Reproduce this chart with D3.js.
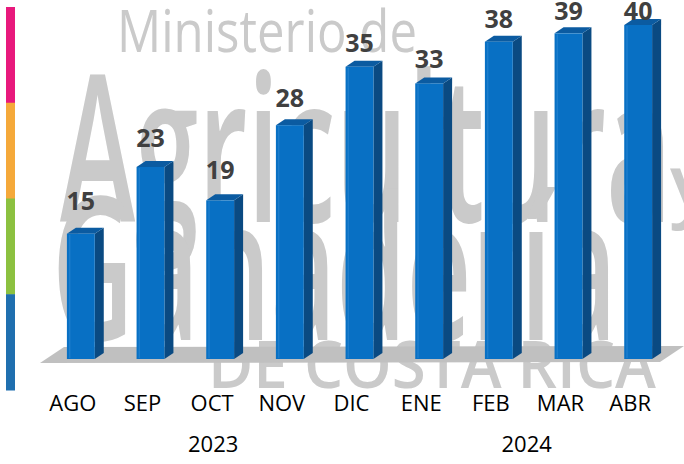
<!DOCTYPE html>
<html>
<head>
<meta charset="utf-8">
<script src="https://cdn.jsdelivr.net/npm/d3@7"></script>
<style>
  html, body { margin: 0; padding: 0; background: #fff; }
  svg { display: block; }
</style>
</head>
<body>
<svg id="chart" width="684" height="464"></svg>
<script>
// ---- data ----
const months = ["AGO", "SEP", "OCT", "NOV", "DIC", "ENE", "FEB", "MAR", "ABR"];
const values = [15, 23, 19, 28, 35, 33, 38, 39, 40];
const years = ["2023", "2024"];
const yearMonths = [["AGO", "DIC"], ["ENE", "ABR"]]; // months spanned by each year label
const stripColors = ["#e8197c", "#f5a93a", "#8cc140", "#1f6faf"];

// ---- layout ----
const svg = d3.select("#chart");

const x = d3.scaleBand().domain(months).range([46, 673]).paddingInner(0.6).paddingOuter(0.3);
const y = d3.scaleLinear().domain([0, 40]).range([359, 25]);

const dx = 9, dy = 6;
const labelFont = "'Open Sans', 'Liberation Sans', sans-serif";

// ---- watermark ----
const wm = svg.append("g").attr("fill", "#cacaca").attr("font-family", labelFont);
wm.append("text").attr("x", 117).attr("y", 52).attr("font-size", 58)
  .attr("textLength", 300).attr("lengthAdjust", "spacingAndGlyphs").text("Ministerio de");
wm.append("text").attr("x", 60).attr("y", 222).attr("font-size", 205).attr("font-weight", 600)
  .attr("textLength", 612).attr("lengthAdjust", "spacingAndGlyphs").text("Agricultura");
wm.append("text").attr("x", 670).attr("y", 212).attr("font-size", 80).attr("font-weight", 600).text("y");
wm.append("text").attr("x", 52).attr("y", 340).attr("font-size", 200).attr("font-weight", 600)
  .attr("textLength", 565).attr("lengthAdjust", "spacingAndGlyphs").text("Ganadería");
wm.append("text").attr("x", 208).attr("y", 388).attr("font-size", 66).attr("font-weight", 600)
  .attr("textLength", 448).attr("lengthAdjust", "spacingAndGlyphs").text("DE COSTA RICA");

// ---- floor ----
const y0 = y(0);
const floorLeft = 40, floorRight = 660, floorDx = 24;
svg.append("polygon")
  .attr("points", [
    [floorLeft, y0 + 4], [floorRight, y0 + 3],
    [floorRight + floorDx, y0 - 13], [floorLeft + floorDx, y0 - 12]
  ].map(p => p.join(",")).join(" "))
  .attr("fill", "#c0c0c0");

// ---- 3D bars ----
const bw = x.bandwidth();
const bars = svg.append("g").selectAll("g").data(months).join("g");
bars.each(function(m, i) {
  const g = d3.select(this);
  const x0 = x(m), x1 = x0 + bw, yt = y(values[i]);
  g.append("polygon")
    .attr("points", [[x1, yt], [x1 + dx, yt - dy], [x1 + dx, y0 - dy], [x1, y0]].map(p => p.join(",")).join(" "))
    .attr("fill", "#0a4a82");
  g.append("polygon")
    .attr("points", [[x0, yt], [x0 + dx, yt - dy], [x1 + dx, yt - dy], [x1, yt]].map(p => p.join(",")).join(" "))
    .attr("fill", "#0b5ba1");
  g.append("rect").attr("x", x0).attr("y", yt).attr("width", bw).attr("height", y0 - yt)
    .attr("fill", "#0870c4");
  g.append("rect").attr("x", x0 + 2).attr("y", yt + 1).attr("width", 1.5).attr("height", y0 - yt - 2)
    .attr("fill", "#2a86d2").attr("opacity", 0.6);
});

// ---- value labels ----
svg.append("g").selectAll("text").data(months).join("text")
  .attr("x", m => x(m) + bw / 2)
  .attr("y", (m, i) => Math.max(y(values[i]) - (30 - 0.43 * values[i]), 20))
  .attr("text-anchor", "middle")
  .attr("font-family", labelFont)
  .attr("font-weight", "bold")
  .attr("font-size", 25)
  .attr("fill", "#404040")
  .text((m, i) => values[i]);

// ---- category labels ----
svg.append("g").selectAll("text").data(months).join("text")
  .attr("x", m => x(m) + bw / 2 - 8)
  .attr("y", 411)
  .attr("text-anchor", "middle")
  .attr("font-family", labelFont)
  .attr("font-size", 22)
  .attr("fill", "#000")
  .text(m => m);

// ---- year labels ----
svg.append("g").selectAll("text").data(years).join("text")
  .attr("x", (yr, i) => (x(yearMonths[i][0]) + x(yearMonths[i][1]) + bw) / 2 - 7)
  .attr("y", 452)
  .attr("text-anchor", "middle")
  .attr("font-family", labelFont)
  .attr("font-size", 22)
  .attr("fill", "#000")
  .text(d => d);

// ---- left colour strip ----
const strip = d3.scaleBand().domain(d3.range(stripColors.length)).range([7, 390]);
svg.append("g").selectAll("rect").data(stripColors).join("rect")
  .attr("x", 6).attr("width", 9)
  .attr("y", (c, i) => strip(i)).attr("height", strip.bandwidth() + 0.5)
  .attr("fill", c => c);
</script>
</body>
</html>
